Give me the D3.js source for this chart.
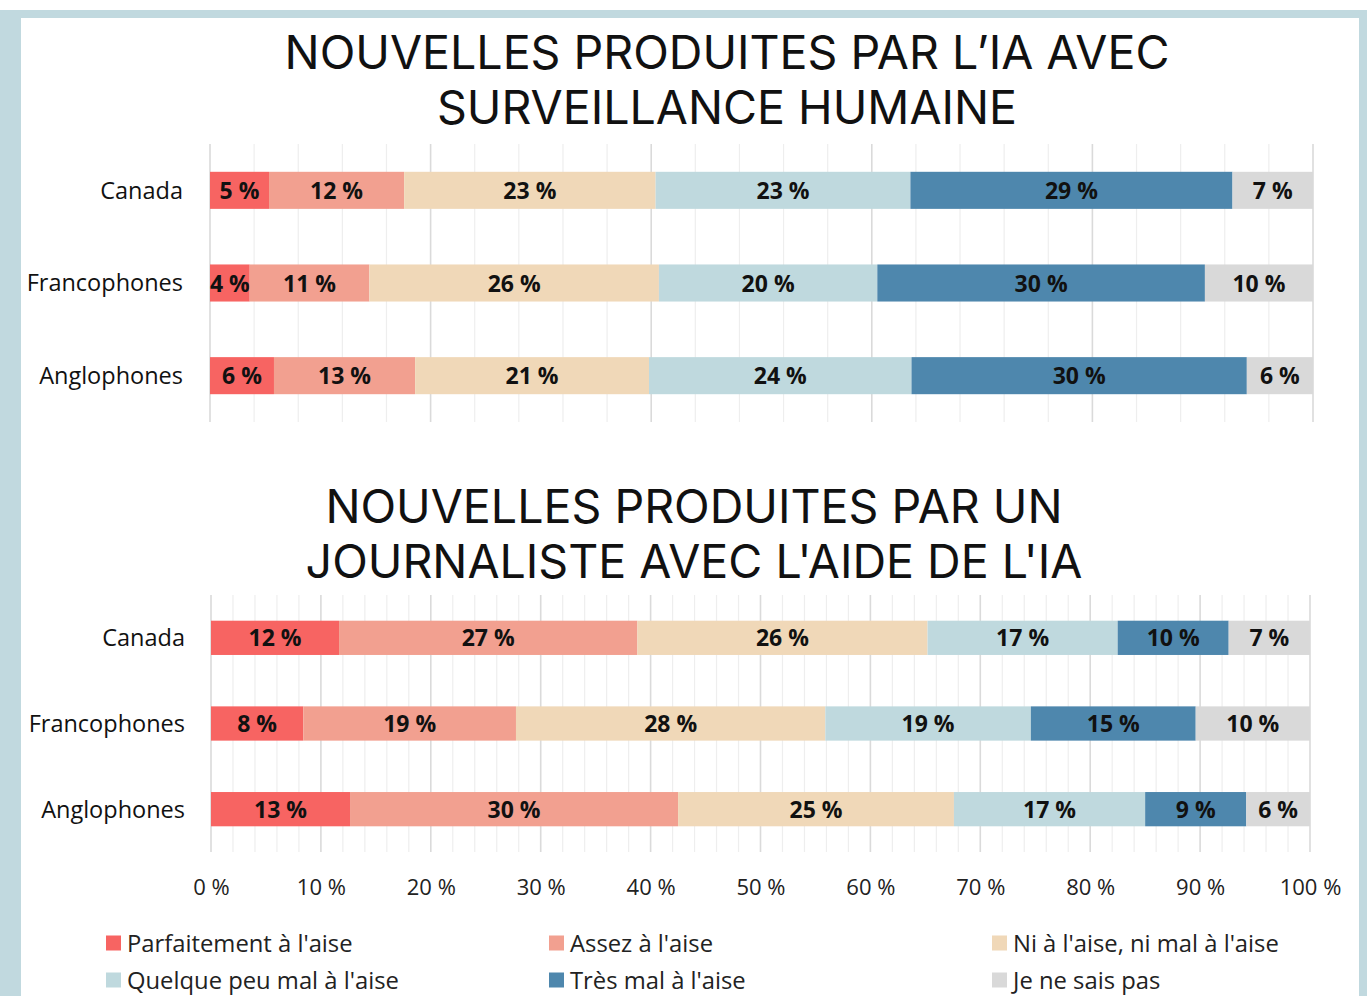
<!DOCTYPE html>
<html lang="fr">
<head>
<meta charset="utf-8">
<script src="https://cdn.jsdelivr.net/npm/d3@7"></script>
<style>
  html, body { margin: 0; padding: 0; background: #ffffff; }
  svg { display: block; }
</style>
</head>
<body>
<svg id="chart" width="1367" height="996"></svg>
<script>
// Response categories (stack order, left to right)
const seriesNames = [
  "Parfaitement à l'aise",
  "Assez à l'aise",
  "Ni à l'aise, ni mal à l'aise",
  "Quelque peu mal à l'aise",
  "Très mal à l'aise",
  "Je ne sais pas"
];
const seriesColors = ["#f76462", "#f2a090", "#f0d8b8", "#bfd9de", "#4e87ad", "#d9d9d9"];

// Respondent groups (rows)
const categories = ["Canada", "Francophones", "Anglophones"];

// Survey shares (%) per group, one value per response category
const aiOversightValues = [
  [5.35, 12.25, 22.8, 23.1, 29.2, 7.3],
  [3.6, 10.85, 26.25, 19.8, 29.7, 9.8],
  [5.8, 12.8, 21.2, 23.8, 30.4, 6.0]
];
const journalistValues = [
  [11.65, 27.15, 26.4, 17.3, 10.1, 7.4],
  [8.4, 19.35, 28.15, 18.7, 15.0, 10.4],
  [12.65, 29.85, 25.1, 17.4, 9.2, 5.8]
];

// Panel titles
const aiOversightTitle = ["NOUVELLES PRODUITES PAR L’IA AVEC", "SURVEILLANCE HUMAINE"];
const journalistTitle = ["NOUVELLES PRODUITES PAR UN", "JOURNALISTE AVEC L'AIDE DE L'IA"];

// Axis ticks
const tickValues = [0, 10, 20, 30, 40, 50, 60, 70, 80, 90, 100];
const tickLabels = ["0 %", "10 %", "20 %", "30 %", "40 %", "50 %", "60 %", "70 %", "80 %", "90 %", "100 %"];

const W = 1367, H = 996;
const svg = d3.select("#chart");

// Frame: pale blue border around a white card
const frameColor = "#c1d9df";
svg.append("rect").attr("x", 0).attr("y", 10).attr("width", W).attr("height", H - 10).attr("fill", frameColor);
svg.append("rect").attr("x", 21).attr("y", 18).attr("width", 1338).attr("height", H - 18).attr("fill", "#ffffff");

// Titles, sized so the first line of the top title spans its width
function drawTitle(lines, cx, baseline, size) {
  const t = svg.append("g");
  lines.forEach((line, i) => {
    t.append("text")
      .attr("x", cx)
      .attr("y", baseline + i * 55)
      .attr("text-anchor", "middle")
      .attr("font-family", "Inter, 'Noto Sans', sans-serif")
      .attr("font-size", size)
      .attr("fill", "#111")
      .text(line);
  });
}
const probe = svg.append("text")
  .attr("font-family", "Inter, 'Noto Sans', sans-serif")
  .attr("font-size", 48)
  .text(aiOversightTitle[0]);
const titleSize = 48 * 885 / probe.node().getComputedTextLength();
probe.remove();

drawTitle(aiOversightTitle, 727, 69, titleSize);
drawTitle(journalistTitle, 694, 523, titleSize);

function drawPanel(cfg) {
  const g = svg.append("g");
  const x = d3.scaleLinear().domain([0, 100]).range([cfg.x0, cfg.x1]);
  const y = d3.scaleBand()
    .domain(categories)
    .range([cfg.yTop, cfg.yBottom])
    .paddingInner(0.6)
    .paddingOuter(0.3);

  // Vertical gridlines: minor then major
  const minor = d3.range(0, 100.001, cfg.minorStep);
  g.append("g").selectAll("line")
    .data(minor.filter(v => Math.abs(v % cfg.majorStep) > 1e-6 && Math.abs(v % cfg.majorStep - cfg.majorStep) > 1e-6))
    .join("line")
    .attr("x1", d => x(d)).attr("x2", d => x(d))
    .attr("y1", cfg.yTop).attr("y2", cfg.yBottom)
    .attr("stroke", "#eeeeee").attr("stroke-width", 1.2);
  g.append("g").selectAll("line")
    .data(d3.range(0, 100.001, cfg.majorStep))
    .join("line")
    .attr("x1", d => x(d)).attr("x2", d => x(d))
    .attr("y1", cfg.yTop).attr("y2", cfg.yBottom)
    .attr("stroke", "#dadada").attr("stroke-width", 1.6);

  // Stacked segments
  const rows = categories.map((c, i) => {
    const row = { category: c };
    seriesNames.forEach((s, j) => { row[s] = cfg.values[i][j]; });
    return row;
  });
  const stack = d3.stack().keys(seriesNames)(rows);

  stack.forEach((layer, j) => {
    const lg = g.append("g");
    lg.selectAll("rect")
      .data(layer)
      .join("rect")
      .attr("x", d => x(d[0]))
      .attr("y", d => y(d.data.category))
      .attr("width", d => x(d[1]) - x(d[0]))
      .attr("height", y.bandwidth())
      .attr("fill", seriesColors[j]);
    lg.selectAll("text")
      .data(layer)
      .join("text")
      .attr("x", d => (x(d[0]) + x(d[1])) / 2)
      .attr("y", d => y(d.data.category) + y.bandwidth() / 2)
      .attr("dy", "0.37em")
      .attr("text-anchor", "middle")
      .attr("font-family", "'Open Sans', 'Noto Sans', sans-serif")
      .attr("font-weight", 700)
      .attr("font-size", 23)
      .attr("fill", "#111")
      .text(d => Math.round(d[1] - d[0]) + " %");
  });

  // Row labels
  g.append("g").selectAll("text")
    .data(categories)
    .join("text")
    .attr("x", cfg.labelX)
    .attr("y", d => y(d) + y.bandwidth() / 2)
    .attr("dy", "0.36em")
    .attr("text-anchor", "end")
    .attr("font-family", "'Open Sans', 'Noto Sans', sans-serif")
    .attr("font-size", 23.5)
    .attr("fill", "#111")
    .text(d => d);

  if (cfg.showAxis) {
    const axis = d3.axisBottom(x)
      .tickValues(tickValues)
      .tickFormat((d, i) => tickLabels[i])
      .tickSize(0)
      .tickPadding(0);
    const ag = g.append("g")
      .attr("transform", `translate(0, ${cfg.axisY})`)
      .call(axis);
    ag.select(".domain").remove();
    ag.selectAll("text")
      .attr("dy", "0.36em")
      .attr("font-family", "'Open Sans', 'Noto Sans', sans-serif")
      .attr("font-size", 22)
      .attr("fill", "#222");
  }
}

drawPanel({ values: aiOversightValues, x0: 210, x1: 1313, yTop: 144, yBottom: 422,
  minorStep: 4, majorStep: 20, labelX: 183, showAxis: false });
drawPanel({ values: journalistValues, x0: 211, x1: 1310, yTop: 595, yBottom: 852,
  minorStep: 2, majorStep: 10, labelX: 185, showAxis: true, axisY: 887 });

// Legend: three columns, two rows
const legendCols = [106, 549, 992];
const legendRows = [943, 980];
const legend = svg.append("g");
seriesNames.forEach((name, i) => {
  const lx = legendCols[i % 3];
  const ly = legendRows[Math.floor(i / 3)];
  legend.append("rect")
    .attr("x", lx).attr("y", ly - 7.5)
    .attr("width", 15).attr("height", 15)
    .attr("fill", seriesColors[i]);
  legend.append("text")
    .attr("x", lx + 21).attr("y", ly)
    .attr("dy", "0.36em")
    .attr("font-family", "'Open Sans', 'Noto Sans', sans-serif")
    .attr("font-size", 23.8)
    .attr("fill", "#222")
    .text(name);
});
</script>
</body>
</html>
